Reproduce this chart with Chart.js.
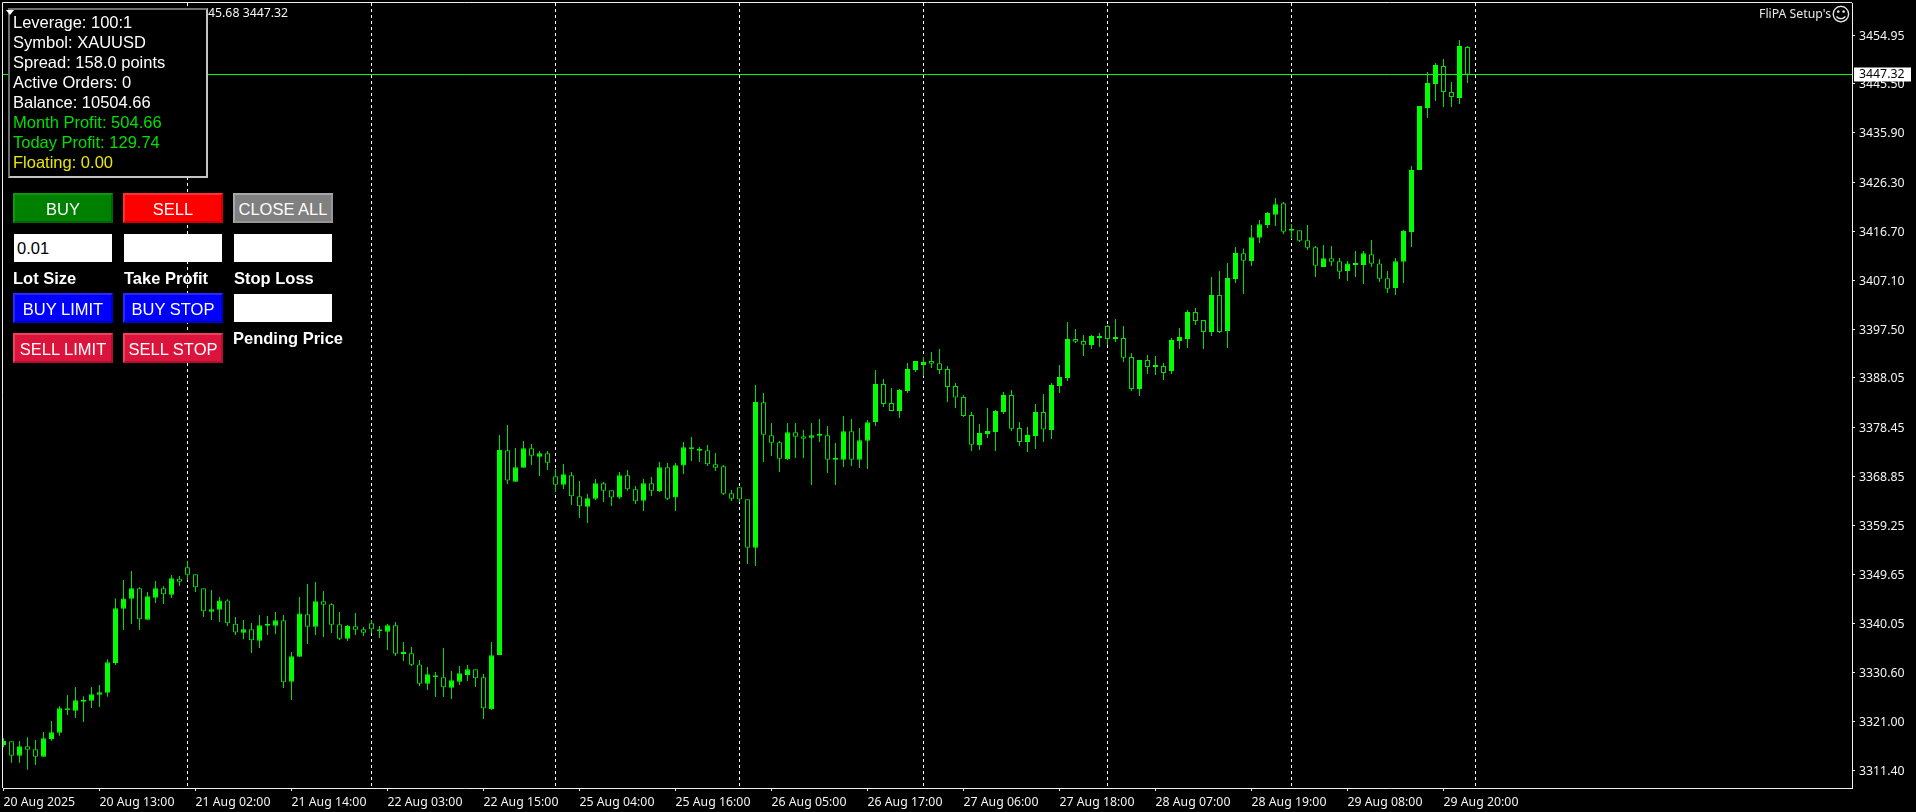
<!DOCTYPE html>
<html>
<head>
<meta charset="utf-8">
<title>XAUUSD H1</title>
<script src="https://cdn.jsdelivr.net/npm/chart.js@4/dist/chart.umd.min.js"></script>
<style>
  html, body { margin: 0; padding: 0; background: #000; width: 1916px; height: 812px; overflow: hidden; }
  #myChart { position: absolute; left: 0; top: 0; }
  .ohlc { position: absolute; left: 208px; top: 4px; color: #f4f4f4; font: 12.3px "Noto Sans", sans-serif; white-space: nowrap; }
  .brand { position: absolute; left: 1759px; top: 5px; color: #e8e8e8; font: 12.3px "Noto Sans", sans-serif; white-space: nowrap; }
  .smile { position: absolute; left: 1831px; top: 3px; color: #e8e8e8; font: 19px "DejaVu Sans", sans-serif; }
  .info { position: absolute; left: 8px; top: 8px; width: 200px; height: 170px; box-sizing: border-box; background: #000;
          border: 2px solid; border-color: #6e6e6e #c4c4c4 #c4c4c4 #6e6e6e; }
  .info div { position: absolute; left: 3px; font: 16.5px "Liberation Sans", Arial, sans-serif; white-space: nowrap; color: #fff; }
  .tri { position: absolute; left: 6px; top: 10px; width: 0; height: 0; border-left: 4.5px solid transparent; border-right: 4.5px solid transparent; border-top: 5px solid #fff; }
  .btn { position: absolute; width: 100px; height: 30px; box-sizing: border-box; color: #fff; text-align: center;
         font: 16.5px/28px "Liberation Sans", Arial, sans-serif; border: 2px solid; }
  .field { position: absolute; width: 98px; height: 28px; background: #fff; color: #000; box-sizing: border-box; padding-left: 3px;
           font: 16.5px/28px "Liberation Sans", Arial, sans-serif; }
  .cap { position: absolute; color: #fff; font: bold 16.5px "Liberation Sans", Arial, sans-serif; white-space: nowrap; }
</style>
</head>
<body>
<canvas id="myChart" width="1916" height="812"></canvas>

<div class="ohlc">45.68 3447.32</div>
<div class="brand">FliPA Setup's</div>
<div class="smile">☺</div>

<div class="info">
  <div style="top:3px">Leverage: 100:1</div>
  <div style="top:23px">Symbol: XAUUSD</div>
  <div style="top:43px">Spread: 158.0 points</div>
  <div style="top:63px">Active Orders: 0</div>
  <div style="top:83px">Balance: 10504.66</div>
  <div style="top:103px;color:#00e000">Month Profit: 504.66</div>
  <div style="top:123px;color:#00e000">Today Profit: 129.74</div>
  <div style="top:143px;color:#e8e800">Floating: 0.00</div>
</div>
<div class="tri"></div>

<div class="btn" style="left:13px;top:193px;background:#008000;border-color:#0a9a0a #006600 #006600 #0a9a0a">BUY</div>
<div class="btn" style="left:123px;top:193px;background:#ff0000;border-color:#ff3030 #d00000 #d00000 #ff3030">SELL</div>
<div class="btn" style="left:233px;top:193px;background:#808080;border-color:#a8a8a8 #969696 #969696 #a8a8a8">CLOSE ALL</div>

<div class="field" style="left:14px;top:234px">0.01</div>
<div class="field" style="left:124px;top:234px"></div>
<div class="field" style="left:234px;top:234px"></div>

<div class="cap" style="left:13px;top:269px">Lot Size</div>
<div class="cap" style="left:124px;top:269px">Take Profit</div>
<div class="cap" style="left:234px;top:269px">Stop Loss</div>

<div class="btn" style="left:13px;top:293px;background:#0000ff;border-color:#2a2aff #0000c8 #0000c8 #2a2aff">BUY LIMIT</div>
<div class="btn" style="left:123px;top:293px;background:#0000ff;border-color:#2a2aff #0000c8 #0000c8 #2a2aff">BUY STOP</div>
<div class="field" style="left:234px;top:294px"></div>
<div class="cap" style="left:233px;top:329px">Pending Price</div>

<div class="btn" style="left:13px;top:333px;background:#dc143c;border-color:#f04060 #b01030 #b01030 #f04060">SELL LIMIT</div>
<div class="btn" style="left:123px;top:333px;background:#dc143c;border-color:#f04060 #b01030 #b01030 #f04060">SELL STOP</div>

<script>
// XAUUSD H1, values
const opens = [
  3316.36, 3317.08, 3314.28, 3316.10, 3315.51, 3314.08, 3317.53, 3318.77, 3323.52, 3323.07,
  3324.82, 3325.02, 3326.19, 3326.58, 3332.38, 3342.99, 3344.94, 3346.96, 3340.84, 3345.13,
  3346.96, 3345.72, 3348.85, 3351.06, 3349.69, 3346.96, 3342.40, 3342.79, 3344.61, 3340.06,
  3338.30, 3338.95, 3336.74, 3339.67, 3339.67, 3340.71, 3328.73, 3333.61, 3341.88, 3339.47,
  3344.42, 3343.83, 3339.93, 3337.13, 3339.54, 3338.95, 3340.12, 3338.95, 3338.49, 3339.73,
  3334.13, 3334.26, 3332.11, 3328.34, 3329.97, 3329.58, 3327.56, 3328.73, 3330.03, 3331.14,
  3329.58, 3323.33, 3333.94, 3373.92, 3367.80, 3370.53, 3374.31, 3372.68, 3373.33, 3368.84,
  3367.21, 3369.04, 3364.94, 3362.92, 3364.48, 3367.47, 3366.11, 3364.68, 3369.04, 3366.30,
  3364.09, 3367.47, 3365.98, 3370.60, 3364.68, 3370.93, 3374.51, 3373.85, 3373.92, 3371.19,
  3370.80, 3365.52, 3366.69, 3364.35, 3354.91, 3383.30, 3376.85, 3375.48, 3372.16, 3377.44,
  3376.65, 3376.39, 3376.78, 3376.85, 3372.10, 3372.10, 3377.63, 3372.10, 3375.81, 3379.45,
  3386.87, 3383.16, 3381.60, 3385.51, 3389.61, 3390.59, 3391.37, 3390.91, 3389.80, 3386.48,
  3384.34, 3380.82, 3374.96, 3377.11, 3377.50, 3381.41, 3384.73, 3378.28, 3375.55, 3376.72,
  3381.41, 3377.89, 3386.48, 3388.05, 3395.66, 3395.27, 3394.49, 3395.86, 3398.20, 3395.66,
  3395.86, 3392.15, 3385.90, 3391.56, 3390.19, 3390.39, 3389.41, 3395.27, 3395.66, 3400.94,
  3399.37, 3397.03, 3404.26, 3397.23, 3407.38, 3412.39, 3410.89, 3415.45, 3417.92, 3419.94,
  3422.15, 3416.81, 3416.88, 3414.93, 3413.56, 3409.72, 3411.41, 3410.83, 3408.94, 3410.11,
  3410.11, 3412.19, 3410.43, 3407.51, 3405.62, 3410.76, 3416.56, 3428.67, 3440.78, 3445.46,
  3448.98, 3443.90, 3442.73, 3452.69
];
const highs = [
  3317.66, 3317.08, 3317.14, 3317.86, 3317.34, 3318.90, 3321.05, 3323.91, 3326.13, 3327.69,
  3325.87, 3327.69, 3328.08, 3333.09, 3345.00, 3348.58, 3350.34, 3347.15, 3346.24, 3348.39,
  3347.35, 3349.56, 3349.37, 3352.36, 3349.69, 3346.96, 3346.63, 3345.26, 3344.81, 3341.36,
  3340.77, 3340.19, 3341.75, 3341.55, 3342.34, 3341.75, 3334.52, 3345.26, 3347.80, 3348.19,
  3346.44, 3344.03, 3342.34, 3339.80, 3342.14, 3339.41, 3340.77, 3339.60, 3339.99, 3340.38,
  3336.48, 3335.50, 3332.96, 3331.59, 3330.62, 3335.30, 3330.81, 3331.79, 3331.98, 3331.14,
  3330.23, 3336.48, 3376.91, 3378.87, 3374.38, 3375.74, 3375.16, 3373.79, 3373.79, 3370.27,
  3371.25, 3369.69, 3367.93, 3365.39, 3368.32, 3367.74, 3366.11, 3369.69, 3370.08, 3366.95,
  3368.32, 3368.71, 3371.64, 3371.45, 3371.45, 3375.55, 3376.52, 3374.57, 3374.96, 3373.40,
  3371.06, 3366.17, 3366.69, 3364.35, 3386.68, 3385.12, 3379.26, 3375.74, 3379.26, 3379.26,
  3377.89, 3379.26, 3380.04, 3378.67, 3375.35, 3380.63, 3380.04, 3378.28, 3379.84, 3389.61,
  3387.85, 3386.09, 3385.90, 3390.98, 3391.37, 3392.21, 3393.12, 3393.71, 3390.39, 3387.07,
  3384.73, 3381.41, 3379.06, 3382.19, 3381.80, 3385.31, 3385.70, 3379.45, 3378.48, 3382.97,
  3384.92, 3387.07, 3390.59, 3398.98, 3397.62, 3396.44, 3396.44, 3396.84, 3398.40, 3399.57,
  3398.20, 3392.93, 3391.56, 3392.54, 3392.34, 3390.98, 3395.86, 3397.81, 3401.33, 3401.72,
  3399.37, 3407.77, 3408.94, 3410.51, 3413.63, 3413.36, 3417.92, 3418.90, 3420.46, 3423.19,
  3422.41, 3418.12, 3416.88, 3417.92, 3413.82, 3414.02, 3413.82, 3411.48, 3410.89, 3412.84,
  3412.84, 3414.99, 3411.28, 3408.94, 3411.48, 3416.94, 3429.45, 3441.17, 3447.81, 3449.57,
  3450.35, 3445.86, 3454.06, 3452.89
];
const lows = [
  3315.90, 3312.91, 3312.91, 3311.54, 3312.45, 3314.08, 3317.21, 3318.18, 3322.22, 3321.63,
  3320.85, 3323.59, 3323.78, 3325.80, 3331.98, 3338.82, 3339.99, 3338.82, 3340.84, 3344.09,
  3343.90, 3345.07, 3347.41, 3348.58, 3346.24, 3341.36, 3340.77, 3340.38, 3339.60, 3337.84,
  3337.00, 3334.33, 3335.30, 3337.84, 3338.04, 3327.49, 3325.15, 3333.61, 3336.09, 3337.84,
  3337.45, 3338.23, 3336.87, 3336.67, 3337.84, 3337.65, 3338.17, 3337.26, 3334.91, 3333.74,
  3332.77, 3331.79, 3327.88, 3327.10, 3325.73, 3325.73, 3325.34, 3328.08, 3328.86, 3327.69,
  3321.44, 3323.20, 3333.94, 3367.34, 3367.80, 3370.53, 3371.06, 3368.91, 3370.08, 3365.78,
  3366.37, 3363.24, 3360.70, 3359.73, 3364.22, 3363.83, 3363.05, 3364.42, 3366.04, 3363.44,
  3362.07, 3365.00, 3365.78, 3364.22, 3362.07, 3369.30, 3371.84, 3371.64, 3370.86, 3369.88,
  3365.20, 3364.02, 3363.83, 3351.72, 3351.33, 3371.64, 3372.81, 3369.69, 3372.03, 3372.42,
  3372.42, 3367.15, 3375.55, 3369.49, 3367.15, 3370.66, 3370.86, 3370.47, 3370.27, 3378.67,
  3382.38, 3381.60, 3380.23, 3385.12, 3389.22, 3388.44, 3390.00, 3388.83, 3383.36, 3382.19,
  3380.43, 3373.79, 3373.98, 3376.33, 3373.79, 3381.02, 3377.70, 3374.77, 3373.59, 3374.18,
  3375.55, 3376.13, 3385.12, 3387.46, 3394.88, 3392.34, 3393.71, 3394.10, 3394.49, 3395.08,
  3391.17, 3385.51, 3384.53, 3388.83, 3388.63, 3387.66, 3388.83, 3393.71, 3393.91, 3398.40,
  3393.71, 3396.25, 3396.84, 3393.91, 3406.60, 3404.45, 3409.91, 3414.41, 3417.34, 3417.73,
  3416.16, 3415.19, 3414.60, 3413.04, 3407.77, 3409.72, 3409.91, 3407.38, 3406.98, 3407.77,
  3406.40, 3409.72, 3406.79, 3404.64, 3404.25, 3406.59, 3413.63, 3428.67, 3438.82, 3442.14,
  3440.97, 3440.97, 3441.56, 3445.66
];
const closes = [
  3317.14, 3314.28, 3316.10, 3315.45, 3314.08, 3317.66, 3318.83, 3323.52, 3323.13, 3325.08,
  3325.08, 3326.26, 3326.65, 3332.51, 3343.05, 3345.00, 3346.96, 3340.90, 3345.40, 3346.96,
  3345.79, 3348.91, 3348.26, 3349.63, 3347.15, 3342.47, 3342.86, 3344.61, 3340.12, 3338.36,
  3338.95, 3336.80, 3339.73, 3339.80, 3340.71, 3328.60, 3333.68, 3342.07, 3339.47, 3344.42,
  3343.77, 3339.86, 3337.13, 3339.60, 3338.89, 3338.30, 3338.95, 3338.56, 3339.73, 3334.20,
  3334.26, 3332.05, 3328.34, 3330.16, 3329.58, 3327.62, 3328.99, 3330.36, 3331.14, 3329.38,
  3323.52, 3333.87, 3373.98, 3368.00, 3370.60, 3374.31, 3372.88, 3373.33, 3371.51, 3367.21,
  3369.23, 3364.94, 3362.98, 3364.55, 3367.47, 3366.04, 3364.68, 3369.04, 3366.30, 3363.96,
  3367.47, 3366.04, 3370.60, 3364.48, 3370.99, 3374.51, 3374.12, 3374.18, 3371.19, 3370.53,
  3365.46, 3364.48, 3364.29, 3354.91, 3383.36, 3376.98, 3375.42, 3372.29, 3377.44, 3376.59,
  3376.20, 3376.85, 3376.91, 3372.10, 3372.23, 3377.63, 3372.10, 3375.87, 3379.39, 3386.87,
  3382.97, 3381.60, 3385.70, 3389.80, 3391.37, 3391.17, 3390.85, 3389.61, 3386.29, 3384.21,
  3380.63, 3375.03, 3377.31, 3377.70, 3381.60, 3384.73, 3378.15, 3375.55, 3376.91, 3381.41,
  3377.96, 3386.68, 3388.24, 3395.66, 3395.14, 3394.56, 3396.25, 3396.25, 3395.66, 3395.86,
  3392.02, 3385.90, 3391.56, 3390.19, 3390.39, 3389.02, 3395.47, 3396.05, 3400.94, 3399.18,
  3397.03, 3404.26, 3397.03, 3407.58, 3412.46, 3410.96, 3415.51, 3418.05, 3420.27, 3421.96,
  3416.62, 3417.08, 3414.86, 3413.49, 3409.98, 3411.41, 3410.76, 3408.81, 3410.43, 3410.43,
  3412.39, 3410.37, 3407.44, 3405.49, 3410.83, 3416.75, 3428.67, 3441.17, 3445.66, 3449.18,
  3443.90, 3442.93, 3452.89, 3447.32
];

const priceTicks = [3454.95, 3445.50, 3435.90, 3426.30, 3416.70, 3407.10, 3397.50, 3388.05,
  3378.45, 3368.85, 3359.25, 3349.65, 3340.05, 3330.60, 3321.00, 3311.40];
const timeTicks = [0, 12, 24, 36, 48, 60, 72, 84, 96, 108, 120, 132, 144, 156, 168, 180];
const timeLabels = ['20 Aug 2025', '20 Aug 13:00', '21 Aug 02:00', '21 Aug 14:00', '22 Aug 03:00', '22 Aug 15:00',
  '25 Aug 04:00', '25 Aug 16:00', '26 Aug 05:00', '26 Aug 17:00', '27 Aug 06:00', '27 Aug 18:00',
  '28 Aug 07:00', '28 Aug 19:00', '29 Aug 08:00', '29 Aug 20:00'];
const separators = [23, 46, 69, 92, 115, 138, 161, 184];
const lastPrice = 3447.32;

const xMin = -0.0625, xMax = 231.0625;
const yMin = 3307.965, yMax = 3461.285;
const tickFont = { family: '"Noto Sans", sans-serif', size: 12.3 };
const bull = '#00ff00', wickGreen = '#00e000', axisColor = '#f0f0f0';

// the tick labels must not push the plot area in
function noPadding(scale) {
  scale.paddingTop = 0;
  scale.paddingBottom = 0;
  scale.paddingLeft = 0;
  scale.paddingRight = 0;
}

// left and top edge of the frame, and the white price tag on the axis
const framePlugin = {
  id: 'frame',
  afterDraw(chart) {
    const { ctx, chartArea, scales } = chart;
    ctx.save();
    ctx.strokeStyle = axisColor;
    ctx.lineWidth = 1;
    ctx.beginPath();
    ctx.moveTo(chartArea.left - 0.5, chartArea.bottom);
    ctx.lineTo(chartArea.left - 0.5, chartArea.top - 0.5);
    ctx.lineTo(chartArea.right, chartArea.top - 0.5);
    ctx.stroke();
    const y = scales.y.getPixelForValue(lastPrice);
    ctx.fillStyle = '#fff';
    ctx.fillRect(chartArea.right + 2, y - 7, 57, 14);
    ctx.fillStyle = '#000';
    ctx.font = '12.3px "Noto Sans", sans-serif';
    ctx.textBaseline = 'middle';
    ctx.fillText(lastPrice.toFixed(2), chartArea.right + 7, y);
    ctx.restore();
  }
};

const ctx = document.getElementById('myChart');

const myChart = new Chart(ctx, {
  type: 'bar',
  data: {
    datasets: [
      {
        type: 'line',
        data: [{ x: xMin, y: lastPrice }, { x: xMax, y: lastPrice }],
        borderColor: '#00ff00',
        borderWidth: 1,
        pointRadius: 0
      },
      {
        // candle bodies: hollow when price fell
        data: opens.map((o, i) => ({ x: i, y: [o, closes[i]] })),
        grouped: false,
        barPercentage: 1,
        maxBarThickness: 5,
        minBarLength: 2,
        borderWidth: 1,
        borderSkipped: false,
        borderColor: (c) => (closes[c.dataIndex] < opens[c.dataIndex] ? wickGreen : bull),
        backgroundColor: (c) => (closes[c.dataIndex] < opens[c.dataIndex] ? '#000' : bull)
      },
      {
        // wicks
        data: lows.map((l, i) => ({ x: i, y: [l, highs[i]] })),
        grouped: false,
        barPercentage: 1,
        maxBarThickness: 1,
        borderWidth: 0,
        backgroundColor: wickGreen
      }
    ]
  },
  options: {
    responsive: false,
    animation: false,
    events: [],
    layout: { autoPadding: false, padding: { left: 3, top: 3, right: 0, bottom: 0 } },
    plugins: { legend: { display: false }, tooltip: { enabled: false } },
    scales: {
      x: {
        type: 'linear',
        position: 'bottom',
        min: xMin,
        max: xMax,
        offset: false,
        grid: { offset: false, drawOnChartArea: false, tickLength: 3, tickColor: axisColor },
        border: { color: axisColor },
        afterBuildTicks: (scale) => { scale.ticks = timeTicks.map((value) => ({ value })); },
        afterFit: (scale) => { scale.height = 24; noPadding(scale); },
        ticks: {
          autoSkip: false,
          maxRotation: 0,
          align: 'start',
          padding: 4,
          color: '#f4f4f4',
          font: tickFont,
          callback: (value, index) => timeLabels[index]
        }
      },
      sep: {
        type: 'linear',
        axis: 'x',
        position: 'top',
        min: xMin,
        max: xMax,
        offset: false,
        grid: { offset: false, color: '#fff', lineWidth: 1, drawTicks: false, tickLength: 0 },
        border: { display: false, dash: [3, 3] },
        afterBuildTicks: (scale) => { scale.ticks = separators.map((value) => ({ value })); },
        afterFit: (scale) => { scale.height = 0; noPadding(scale); },
        ticks: { display: false }
      },
      y: {
        type: 'linear',
        position: 'right',
        min: yMin,
        max: yMax,
        grid: { drawOnChartArea: false, tickLength: 3, tickColor: axisColor },
        border: { color: axisColor },
        afterBuildTicks: (scale) => { scale.ticks = priceTicks.map((value) => ({ value })); },
        afterFit: (scale) => { scale.width = 64; noPadding(scale); },
        ticks: {
          autoSkip: false,
          padding: 4,
          labelOffset: 1,
          color: '#f4f4f4',
          font: tickFont,
          callback: (value) => value.toFixed(2)
        }
      }
    }
  },
  plugins: [framePlugin]
});
</script>
</body>
</html>
